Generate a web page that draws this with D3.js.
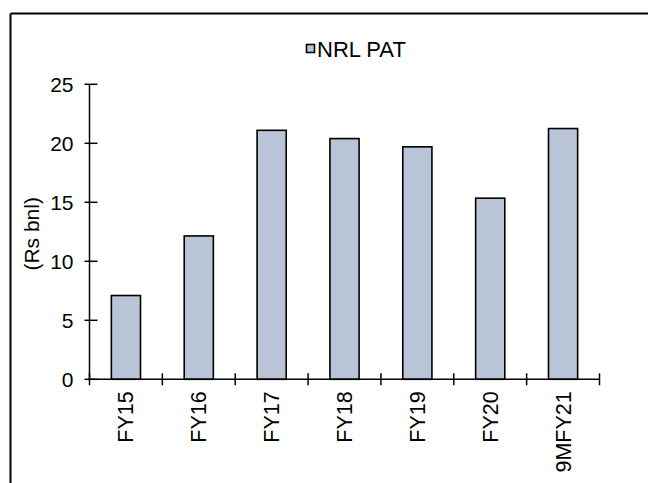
<!DOCTYPE html>
<html><head><meta charset="utf-8">
<script src="https://cdn.jsdelivr.net/npm/d3@7"></script>
<style>
html,body{margin:0;padding:0;background:#fff;}
svg{display:block;font-family:Arial,"Liberation Sans",sans-serif;}
</style></head>
<body>
<svg id="chart" width="648" height="483"></svg>
<script>
const categories = ["FY15","FY16","FY17","FY18","FY19","FY20","9MFY21"];
const patValues = [7.1, 12.15, 21.1, 20.4, 19.7, 15.35, 21.25];
const yTicks = [0,5,10,15,20,25];
const seriesName = "NRL PAT";
const yTitle = "(Rs bnl)";

(function(){
const svg = d3.select("#chart");
const barFill = "#b9c4d6";
const pL = 89.5, pR = 599.5, pT = 84.3, pB = 379.3;

// frame (top and left edges visible)
svg.append("line").attr("x1",10.5).attr("x2",648).attr("y1",13.5).attr("y2",13.5).attr("stroke","#000").attr("stroke-width",2);
svg.append("line").attr("x1",10.5).attr("x2",10.5).attr("y1",13.5).attr("y2",483).attr("stroke","#000").attr("stroke-width",2);

const x = d3.scaleBand().domain(categories).range([pL,pR]).paddingInner(0.6).paddingOuter(0.3);
const y = d3.scaleLinear().domain([0,25]).range([pB,pT]);

// bars
svg.append("g").selectAll("rect").data(patValues).join("rect")
  .attr("x",(d,i)=>x(categories[i]))
  .attr("width",x.bandwidth())
  .attr("y",d=>y(d))
  .attr("height",d=>y(0)-y(d))
  .attr("fill",barFill).attr("stroke","#000").attr("stroke-width",1.6);

// y axis
const gy = svg.append("g");
gy.append("line").attr("x1",pL).attr("x2",pL).attr("y1",y(25)).attr("y2",y(0)).attr("stroke","#000").attr("stroke-width",1.5);
gy.selectAll("line.t").data(yTicks).join("line").attr("class","t")
  .attr("x1",pL-5).attr("x2",pL+8).attr("y1",d=>y(d)).attr("y2",d=>y(d)).attr("stroke","#000").attr("stroke-width",1.5);
gy.selectAll("text").data(yTicks).join("text")
  .attr("x",pL-16).attr("y",d=>y(d)).attr("dy","0.35em")
  .attr("text-anchor","end").attr("font-size",21).attr("fill","#000").text(d=>d);

// x axis
const gx = svg.append("g");
gx.append("line").attr("x1",pL-1).attr("x2",pR).attr("y1",pB).attr("y2",pB).attr("stroke","#000").attr("stroke-width",1.5);
const boundaries = categories.map(c=>x(c)-x.step()*x.paddingInner()/2).concat([pR]);
gx.selectAll("line.t").data(boundaries).join("line").attr("class","t")
  .attr("x1",d=>d).attr("x2",d=>d).attr("y1",pB-6).attr("y2",pB+6).attr("stroke","#000").attr("stroke-width",1.5);
gx.selectAll("text").data(categories).join("text")
  .attr("transform",d=>`translate(${x(d)+x.bandwidth()/2},${pB+12}) rotate(-90)`)
  .attr("dy","0.35em").attr("text-anchor","end").attr("font-size",21.5).attr("fill","#000").text(d=>d);

// y title
svg.append("text").attr("transform",`translate(32,${(pT+pB)/2 + 2}) rotate(-90)`)
  .attr("dy","0.35em").attr("text-anchor","middle").attr("font-size",21).attr("fill","#000").text(yTitle);

// legend
const lg = svg.append("g");
lg.append("rect").attr("x",306.5).attr("y",44.5).attr("width",8).attr("height",8)
  .attr("fill",barFill).attr("stroke","#000").attr("stroke-width",1.6);
lg.append("text").attr("x",317).attr("y",49.5).attr("dy","0.35em").attr("font-size",22).attr("fill","#000").text(seriesName);
})();
</script>
</body></html>
